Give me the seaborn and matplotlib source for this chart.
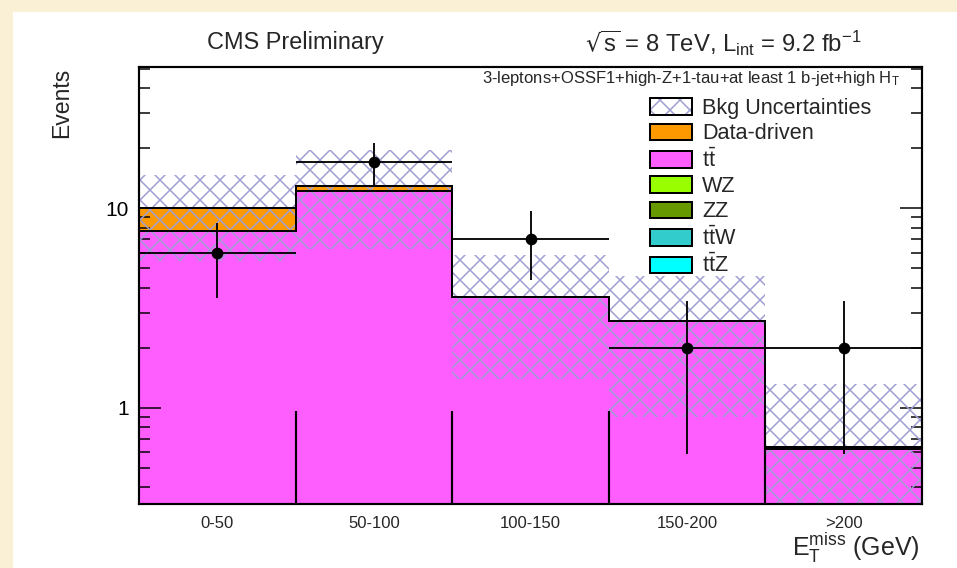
import numpy as np
import pandas as pd
import matplotlib
matplotlib.use("Agg")
import matplotlib.pyplot as plt
from matplotlib.patches import Patch, Rectangle
from matplotlib.legend_handler import HandlerTuple
from matplotlib.ticker import FixedLocator, FixedFormatter, LogLocator, NullFormatter
import seaborn as sns

# MET bins
bins = ["0-50", "50-100", "100-150", "150-200", ">200"]

# expected background yields per bin
data_driven = [2.35, 0.70, 0.0, 0.0, 0.02]
ttbar = [7.40, 11.90, 3.45, 2.62, 0.57]
wz = [0.05, 0.05, 0.03, 0.02, 0.01]
zz = [0.01, 0.01, 0.01, 0.0, 0.0]
ttw = [0.12, 0.12, 0.06, 0.05, 0.02]
ttz = [0.10, 0.10, 0.05, 0.04, 0.02]

# total background uncertainty per bin
bkg_unc = [4.6, 6.6, 2.2, 1.83, 0.68]

# observed events
observed = [6, 17, 7, 2, 2]

# height of the bin divider marks
divider_top = 0.96

process_names = ["Data-driven", "ttbar", "WZ", "ZZ", "ttW", "ttZ"]
process_values = [data_driven, ttbar, wz, zz, ttw, ttz]
process_labels = ["Data-driven", r"$t\bar{t}$", "WZ", "ZZ", r"$t\bar{t}W$", r"$t\bar{t}Z$"]
colors = {
    "Data-driven": "#FF9900",
    "ttbar": "#FF5EFF",
    "WZ": "#99FF00",
    "ZZ": "#669900",
    "ttW": "#33CCCC",
    "ttZ": "#00FFFF",
}
hatch_color = "#9E9ED2"

sns.set_theme(style="ticks")
plt.rcParams["font.family"] = ["Liberation Sans", "DejaVu Sans"]
plt.rcParams["mathtext.default"] = "regular"
plt.rcParams["hatch.linewidth"] = 0.9

DPI = 120
W, H = 957, 568
fig = plt.figure(figsize=(W / DPI, H / DPI), dpi=DPI)
fig.patch.set_facecolor("#F9F0D6")
fig.add_artist(Rectangle((13 / W, 0), 1, (H - 12) / H, transform=fig.transFigure,
                         facecolor="white", edgecolor="none", zorder=-10))

ax = fig.add_axes([139 / W, (H - 504) / H, (922 - 139) / W, (504 - 67) / H])
ax.set_facecolor("white")
ax.set_axisbelow(False)

rows = []
for name, vals in zip(process_names, process_values):
    for i, v in enumerate(vals):
        rows.append((i, name, v))
df = pd.DataFrame(rows, columns=["bin", "process", "events"])

sns.histplot(df, x="bin", weights="events", hue="process", hue_order=process_names,
             palette=colors, multiple="stack", discrete=True, shrink=1,
             element="bars", linewidth=0, alpha=1, legend=False, ax=ax)

x = np.arange(len(bins))
edges = np.arange(len(bins) + 1) - 0.5
mc_top = np.array(wz) + np.array(zz) + np.array(ttw) + np.array(ttz) + np.array(ttbar)
stack_top = mc_top + np.array(data_driven)

ymin, ymax = 0.33, 51

# uncertainty band
unc = np.array(bkg_unc)
lower = np.clip(stack_top - unc, 1e-3, None)
upper = stack_top + unc
ax.bar(x, upper - lower, bottom=lower, width=1.0, facecolor="none",
       edgecolor=hatch_color, hatch="xx", linewidth=0, zorder=3)

# stack outlines
ax.stairs(mc_top, edges, baseline=None, color="black", linewidth=1.2, zorder=4)
ax.stairs(stack_top, edges, baseline=None, color="black", linewidth=1.2, zorder=4)
ax.vlines(edges[1:-1], ymin, divider_top, colors="black", linewidth=1.3, zorder=4)

# observed data
obs = np.array(observed, dtype=float)
ax.errorbar(x, obs, yerr=np.sqrt(obs), xerr=0.5, fmt="o", color="black",
            markersize=6, elinewidth=1.1, capsize=0, zorder=5)

ax.set_yscale("log")
ax.set_ylim(ymin, ymax)
ax.set_xlim(-0.5, len(bins) - 0.5)
ax.set_xlabel("")
ax.set_ylabel("")

ax.set_xticks(x)
ax.set_xticklabels(bins)
ax.tick_params(axis="x", length=0, pad=7, labelsize=10)

ax.yaxis.set_major_locator(FixedLocator([1, 10]))
ax.yaxis.set_major_formatter(FixedFormatter(["1", "10"]))
ax.yaxis.set_minor_locator(LogLocator(base=10, subs=np.arange(2, 10)))
ax.yaxis.set_minor_formatter(NullFormatter())
ax.tick_params(axis="y", which="both", direction="in", left=True, right=True, colors="black")
ax.tick_params(axis="y", which="major", length=13, width=0.9, labelsize=12.5, pad=6)
ax.tick_params(axis="y", which="minor", length=6.6, width=0.9)

for s in ax.spines.values():
    s.set_visible(True)
    s.set_color("black")
    s.set_linewidth(1.3)
    s.set_zorder(6)

# legend
handles = [
    (Patch(facecolor="white", edgecolor=hatch_color, hatch="xx", linewidth=0),
     Patch(facecolor="none", edgecolor="black", linewidth=1.2)),
]
for name in process_names:
    handles.append(Patch(facecolor=colors[name], edgecolor="black", linewidth=1.2))
labels = ["Bkg Uncertainties"] + process_labels
ax.legend(handles, labels, handler_map={tuple: HandlerTuple(ndivide=1, pad=0)},
          loc="upper left", bbox_to_anchor=(650 / W, 1 - 98 / H), bbox_transform=fig.transFigure,
          frameon=False, fontsize=13, handlelength=1.95, handleheight=0.8,
          handletextpad=0.45, labelspacing=0.2, borderpad=0, borderaxespad=0)

fig.text(62 / W, 1 - 68 / H, "Events", rotation=90, ha="center", va="top", fontsize=13.8)
fig.text(920 / W, 1 - 548 / H, r"E$_{T}^{miss}$ (GeV)", ha="right", va="center", fontsize=15)
fig.text(295 / W, 1 - 43 / H, "CMS Preliminary", ha="center", va="center", fontsize=14.1)
fig.text(723 / W, 1 - 43 / H, r"$\sqrt{s}$ = 8 TeV, L$_{int}$ = 9.2 fb$^{-1}$",
         ha="center", va="center", fontsize=14.3)
fig.text(900 / W, 1 - 79 / H, "3-leptons+OSSF1+high-Z+1-tau+at least 1 b-jet+high H$_{T}$",
         ha="right", va="center", fontsize=10)

fig.savefig("out.png", dpi=DPI, facecolor=fig.get_facecolor())
